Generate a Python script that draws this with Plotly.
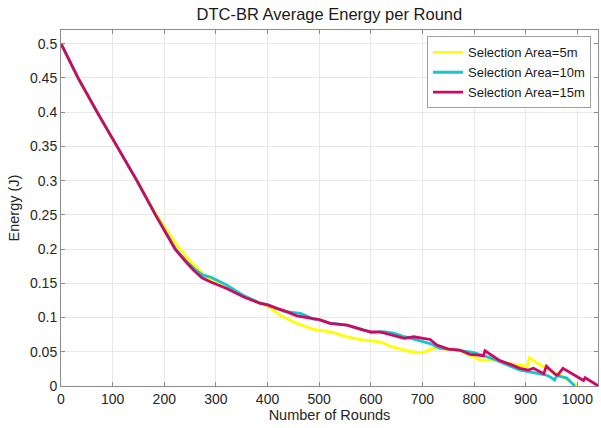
import plotly.graph_objects as go

# Selection Area = 5m (yellow)
rounds_5m = [0, 33, 70, 108, 147, 185, 225, 245, 262, 278, 290, 322, 354, 386, 400, 424, 457, 489,
             521, 554, 586, 618, 640, 665, 690, 703, 715, 728, 754, 760, 772, 798, 811, 845, 863,
             882, 903, 907, 927, 946, 966, 982, 1000]
energy_5m = [0.5, 0.45, 0.4, 0.35, 0.3, 0.25, 0.205, 0.187, 0.174, 0.162, 0.155, 0.143, 0.131, 0.122,
             0.117, 0.1035, 0.0914, 0.0826, 0.0792, 0.0719, 0.067, 0.0646, 0.0574, 0.0525, 0.0486,
             0.0495, 0.0535, 0.0558, 0.0525, 0.0535, 0.052, 0.0428, 0.038, 0.0374, 0.0335, 0.031,
             0.0287, 0.0413, 0.031, 0.0233, 0.016, 0.0087, 0.0]

# Selection Area = 10m (cyan)
rounds_10m = [0, 33, 70, 108, 147, 183, 222, 242, 260, 275, 290, 322, 354, 386, 400, 432, 464, 489,
              500, 521, 554, 586, 600, 626, 646, 665, 690, 715, 734, 754, 772, 798, 824, 845, 863,
              889, 915, 940, 950, 956, 960, 979, 995]
energy_10m = [0.5, 0.45, 0.4, 0.35, 0.3, 0.25, 0.2, 0.183, 0.17, 0.162, 0.159, 0.147, 0.132, 0.121,
              0.119, 0.109, 0.106, 0.0977, 0.097, 0.092, 0.089, 0.082, 0.078, 0.0792, 0.077, 0.072,
              0.067, 0.062, 0.055, 0.054, 0.052, 0.049, 0.0428, 0.0374, 0.031, 0.0233, 0.0195,
              0.016, 0.012, 0.0087, 0.015, 0.012, 0.0]

# Selection Area = 15m (magenta)
rounds_15m = [0, 33, 70, 108, 147, 183, 221, 240, 257, 273, 290, 322, 354, 386, 400, 418, 432, 457,
              489, 500, 521, 554, 586, 600, 618, 651, 665, 683, 702, 715, 728, 750, 772, 792, 808,
              818, 821, 850, 869, 889, 905, 915, 935, 940, 957, 962, 972, 1005, 1012, 1015, 1041]
energy_15m = [0.5, 0.45, 0.4, 0.35, 0.3, 0.25, 0.2, 0.183, 0.169, 0.158, 0.152, 0.142, 0.130, 0.1205,
              0.1185, 0.1133, 0.110, 0.1025, 0.0977, 0.097, 0.0914, 0.089, 0.0816, 0.079, 0.0792,
              0.0719, 0.0695, 0.0719, 0.0694, 0.068, 0.0598, 0.054, 0.0525, 0.0462, 0.0452, 0.044,
              0.0515, 0.037, 0.032, 0.0257, 0.0233, 0.026, 0.018, 0.029, 0.017, 0.016, 0.0257,
              0.012, 0.008, 0.012, 0.0]

x_ticks = [0, 100, 200, 300, 400, 500, 600, 700, 800, 900, 1000]
x_tick_labels = ["0", "100", "200", "300", "400", "500", "600", "700", "800", "900", "1000"]
y_ticks = [0, 0.05, 0.1, 0.15, 0.2, 0.25, 0.3, 0.35, 0.4, 0.45, 0.5]
y_tick_labels = ["0", "0.05", "0.1", "0.15", "0.2", "0.25", "0.3", "0.35", "0.4", "0.45", "0.5"]

series = [
    ("Selection Area=5m", rounds_5m, energy_5m, "#FFFF00"),
    ("Selection Area=10m", rounds_10m, energy_10m, "#17C6CC"),
    ("Selection Area=15m", rounds_15m, energy_15m, "#CC0A66"),
]

fig = go.Figure()
for name, xs, ys, col in series:
    fig.add_trace(go.Scatter(x=xs, y=ys, mode="lines", name=name,
                             line=dict(color=col, width=2.8)))

font_family = "Liberation Sans, Arial, sans-serif"
axis_common = dict(
    showline=True, linecolor="#8c8c8c", linewidth=1, mirror="ticks",
    ticks="inside", ticklen=4, tickcolor="#8c8c8c",
    showgrid=True, gridcolor="#e8e8e8", gridwidth=1, zeroline=False,
    tickfont=dict(family=font_family, size=14, color="#262626"),
    automargin=False,
)

fig.update_layout(
    width=601, height=428,
    margin=dict(l=61, r=3, t=30, b=42),
    paper_bgcolor="white", plot_bgcolor="white",
    title=dict(text="DTC-BR Average Energy per Round", x=0.548, xanchor="center",
               y=0.967, yanchor="middle",
               font=dict(family=font_family, size=16.5, color="#1a1a1a")),
    font=dict(family=font_family, color="#262626"),
    legend=dict(x=0.987, xanchor="right", y=0.982, yanchor="top",
                bgcolor="white", bordercolor="#a0a0a0", borderwidth=1,
                font=dict(family=font_family, size=13, color="#1a1a1a"),
                tracegroupgap=0, itemwidth=30),
    showlegend=True,
)
fig.update_xaxes(range=[0, 1040], tickvals=x_ticks, ticktext=x_tick_labels,
                 title=dict(text="Number of Rounds", standoff=2,
                            font=dict(family=font_family, size=14.5, color="#262626")),
                 **axis_common)
fig.update_yaxes(range=[0, 0.52], tickvals=y_ticks, ticktext=y_tick_labels,
                 title=dict(text="Energy (J)", standoff=6,
                            font=dict(family=font_family, size=14.5, color="#262626")),
                 **axis_common)

fig.write_html("out.html", config={"displayModeBar": False},
               post_script="document.body.style.margin='0';document.body.style.overflow='hidden';")
